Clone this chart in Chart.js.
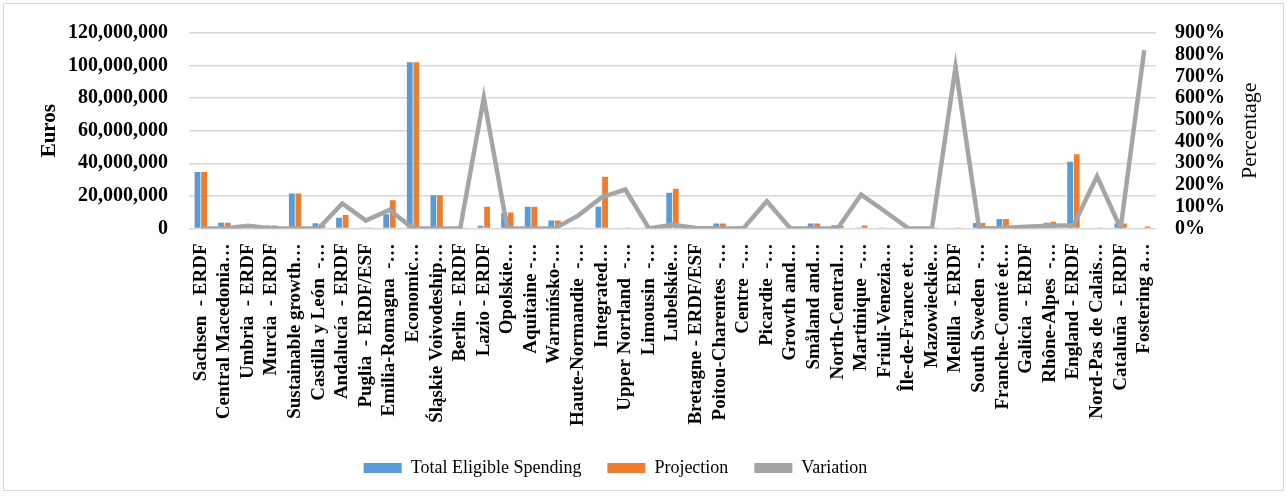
<!DOCTYPE html>
<html>
<head>
<meta charset="utf-8">
<script src="https://cdn.jsdelivr.net/npm/chart.js@4/dist/chart.umd.min.js"></script>
<style>
	html, body { margin: 0; padding: 0; background: #fff; }
	#wrap { position: relative; width: 1287px; height: 498px; }
	#frame { position: absolute; left: 3px; top: 3px; width: 1279px; height: 486px;
		border: 1px solid #d9d9d9; pointer-events: none; }
</style>
</head>
<body>
<div id="wrap">
	<canvas id="chart" width="1287" height="498"></canvas>
	<div id="frame"></div>
</div>
<script>
"use strict";

// Categories (operational programmes, labels truncated as in the source)

var regions = [
	"Sachsen  - ERDF", "Central Macedonia…", "Umbria  - ERDF", "Murcia  - ERDF",
	"Sustainable growth…", "Castilla y León  -…", "Andalucía  - ERDF", "Puglia  - ERDF/ESF",
	"Emilia-Romagna  -…", "Economic…", "Śląskie Voivodeship…", "Berlin - ERDF",
	"Lazio - ERDF", "Opolskie…", "Aquitaine -…", "Warmińsko-…",
	"Haute-Normandie  -…", "Integrated…", "Upper Norrland  -…", "Limousin  -…",
	"Lubelskie…", "Bretagne - ERDF/ESF", "Poitou-Charentes  -…", "Centre  -…",
	"Picardie  -…", "Growth and…", "Småland and…", "North-Central…",
	"Martinique  -…", "Friuli-Venezia…", "Île-de-France et…", "Mazowieckie…",
	"Melilla  - ERDF", "South Sweden  -…", "Franche-Comté et…", "Galicia  - ERDF",
	"Rhône-Alpes  -…", "England - ERDF", "Nord-Pas de Calais…", "Cataluña  - ERDF",
	"Fostering a…"
];

// Euros
var totalEligibleSpending = [
	34700000, 3500000, 500000, 1800000, 21500000, 3100000, 6600000, 300000,
	8700000, 102000000, 20400000, 0, 1600000, 9300000, 13300000, 4900000,
	200000, 13300000, 0, 600000, 21900000, 0, 3000000, 1300000,
	0, 400000, 3000000, 2000000, 500000, 200000, 0, 300000,
	0, 3300000, 5800000, 0, 3500000, 40900000, 0, 3000000,
	0
];

var projection = [
	34700000, 3500000, 300000, 1800000, 21500000, 2500000, 8300000, 500000,
	17300000, 102000000, 20400000, 500000, 13300000, 9700000, 13300000, 4900000,
	300000, 31800000, 200000, 200000, 24400000, 0, 3000000, 300000,
	400000, 200000, 3000000, 1500000, 1800000, 400000, 0, 200000,
	300000, 3300000, 5800000, 0, 4100000, 45600000, 500000, 3000000,
	1200000
];

// Percentage
var variation = [
	0, 0, 12, 0, 0, 0, 115, 36,
	85, 0, 0, 0, 601, 0, 0, 0,
	59, 144, 179, 0, 17, 2, 0, 0,
	125, 0, 0, 0, 156, 79, 0, 0,
	743, 0, 2, 8, 12, 14, 240, 0,
	821
];

var euroTicks = { min: 0, max: 120000000, step: 20000000 };
var percentTicks = { min: 0, max: 900, step: 100 };

var FONT = "'Liberation Serif', 'Times New Roman', serif";

// axis titles are drawn by hand: both read bottom-to-top, which Chart.js
// does not do for a right-hand axis
var axisTitles = {
	id: "axisTitles",
	afterLayout: function (c) {
		// legend sits a little left of centre in the source
		c.legend.left -= 30;
		c.legend.right -= 30;
	},
	afterDraw: function (c) {
		var ctx = c.ctx, area = c.chartArea, midY = (area.top + area.bottom) / 2;
		ctx.save();
		ctx.fillStyle = "#000";
		ctx.textAlign = "center";
		ctx.textBaseline = "middle";

		ctx.save();
		ctx.translate(50, midY);
		ctx.rotate(-Math.PI / 2);
		ctx.font = "bold 21px " + FONT;
		ctx.fillText("Euros", 0, 0);
		ctx.restore();

		ctx.save();
		ctx.translate(1250, midY);
		ctx.rotate(-Math.PI / 2);
		ctx.font = "22px " + FONT;
		ctx.fillText("Percentage", 0, 0);
		ctx.restore();

		ctx.restore();
	}
};

var chart = new Chart(document.getElementById("chart"), {
	data: {
		labels: regions,
		datasets: [
			{
				type: "bar",
				label: "Total Eligible Spending",
				data: totalEligibleSpending,
				backgroundColor: "#5B9BD5",
				yAxisID: "y",
				order: 2,
				categoryPercentage: 0.56,
				barPercentage: 0.88
			},
			{
				type: "bar",
				label: "Projection",
				data: projection,
				backgroundColor: "#ED7D31",
				yAxisID: "y",
				order: 3,
				categoryPercentage: 0.56,
				barPercentage: 0.88
			},
			{
				type: "line",
				label: "Variation",
				data: variation,
				borderColor: "#A5A5A5",
				backgroundColor: "#A5A5A5",
				borderWidth: 4.5,
				pointRadius: 0,
				tension: 0,
				yAxisID: "y1",
				order: 1
			}
		]
	},
	plugins: [axisTitles],
	options: {
		responsive: false,
		animation: false,
		layout: { padding: { top: 26, left: 47, right: 43, bottom: 11 } },
		plugins: {
			tooltip: { enabled: false },
			legend: {
				position: "bottom",
				labels: {
					color: "#000",
					font: { family: FONT, size: 18 },
					boxWidth: 38,
					boxHeight: 10,
					padding: 26,
					sort: function (a, b) { return a.datasetIndex - b.datasetIndex; },
					generateLabels: function (c) {
						var items = Chart.defaults.plugins.legend.labels.generateLabels(c);
						items.forEach(function (item) {
							item.lineWidth = 0;
							item.fillStyle = c.data.datasets[item.datasetIndex].backgroundColor;
						});
						return items;
					}
				}
			}
		},
		scales: {
			x: {
				grid: { display: false },
				border: { display: false },
				ticks: {
					color: "#000",
					font: { family: FONT, size: 19, weight: "bold" },
					autoSkip: false,
					minRotation: 90,
					maxRotation: 90,
					padding: 7
				}
			},
			y: {
				position: "left",
				min: euroTicks.min,
				max: euroTicks.max,
				grid: { color: "#d9d9d9", lineWidth: 1.5, drawTicks: false },
				border: { display: false },
				ticks: {
					stepSize: euroTicks.step,
					autoSkip: false,
					color: "#000",
					font: { family: FONT, size: 20, weight: "bold" },
					padding: 21,
					callback: function (v) { return v.toLocaleString("en-US"); }
				}
			},
			y1: {
				position: "right",
				min: percentTicks.min,
				max: percentTicks.max,
				grid: { display: false, drawTicks: false },
				border: { display: false },
				ticks: {
					stepSize: percentTicks.step,
					autoSkip: false,
					color: "#000",
					font: { family: FONT, size: 20, weight: "bold" },
					padding: 19,
					callback: function (v) { return v + "%"; }
				}
			}
		}
	}
});
</script>
</body>
</html>
